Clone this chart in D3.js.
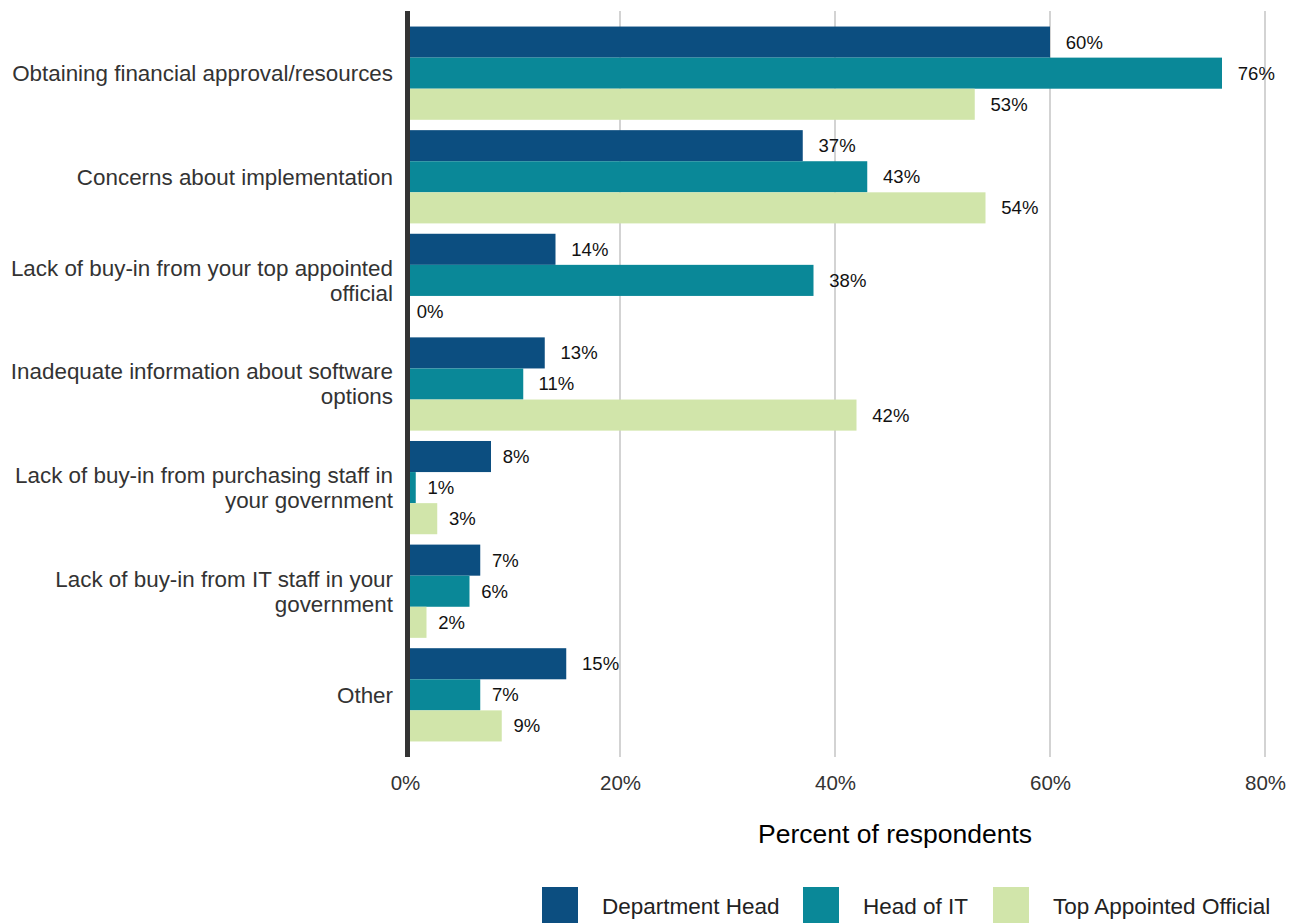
<!DOCTYPE html>
<html>
<head>
<meta charset="utf-8">
<script src="https://cdn.jsdelivr.net/npm/d3@7"></script>
<style>
  html, body { margin: 0; padding: 0; background: #fff; }
  svg { display: block; font-family: "Liberation Sans", Arial, sans-serif; }
</style>
</head>
<body>
<svg id="chart" width="1300" height="923"></svg>
<script>
// Barriers to adopting new software, by respondent role
const categories = [
  ["Obtaining financial approval/resources"],
  ["Concerns about implementation"],
  ["Lack of buy-in from your top appointed", "official"],
  ["Inadequate information about software", "options"],
  ["Lack of buy-in from purchasing staff in", "your government"],
  ["Lack of buy-in from IT staff in your", "government"],
  ["Other"]
];
const seriesNames = ["Department Head", "Head of IT", "Top Appointed Official"];
const seriesColors = ["#0c4e80", "#0a8898", "#d1e5aa"];
const departmentHead = [60, 37, 14, 13, 8, 7, 15];
const headOfIT = [76, 43, 38, 11, 1, 6, 7];
const topAppointed = [53, 54, 0, 42, 3, 2, 9];
const xTicks = [0, 20, 40, 60, 80];

const series = [departmentHead, headOfIT, topAppointed];

const svg = d3.select("#chart");
const plot = { left: 405, right: 1265, top: 11, bottom: 757 };

const x = d3.scaleLinear().domain([0, 80]).range([plot.left, plot.right]);
const catKeys = categories.map((c, i) => i);
const y = d3.scaleBand().domain(catKeys).range([plot.top, plot.bottom])
  .paddingInner(0.1).paddingOuter(0.15);
const ySub = d3.scaleBand().domain(d3.range(series.length)).range([0, y.bandwidth()]);

// vertical gridlines
svg.append("g")
  .selectAll("line")
  .data(xTicks.filter(t => t > 0))
  .join("line")
  .attr("x1", d => x(d)).attr("x2", d => x(d))
  .attr("y1", plot.top).attr("y2", plot.bottom)
  .attr("stroke", "#d3d3d3").attr("stroke-width", 2);

// bars
const groups = svg.append("g").selectAll("g")
  .data(catKeys)
  .join("g")
  .attr("transform", d => `translate(0,${y(d)})`);

groups.selectAll("rect")
  .data(ci => series.map((s, si) => ({ si, v: s[ci] })))
  .join("rect")
  .attr("x", x(0))
  .attr("y", d => ySub(d.si))
  .attr("width", d => x(d.v) - x(0))
  .attr("height", ySub.bandwidth())
  .attr("fill", d => seriesColors[d.si]);

// value labels
groups.selectAll("text")
  .data(ci => series.map((s, si) => ({ si, v: s[ci] })))
  .join("text")
  .attr("y", d => ySub(d.si) + ySub.bandwidth() / 2)
  .attr("dy", "0.35em")
  .attr("font-size", 18.5)
  .attr("fill", "#111")
  .text(d => d.v + "%")
  .attr("x", function(d) {
    const w = this.getComputedTextLength();
    return x(d.v) + 0.4 * w + 1;
  });

// zero baseline
svg.append("line")
  .attr("x1", x(0) + 2.5).attr("x2", x(0) + 2.5)
  .attr("y1", plot.top).attr("y2", plot.bottom)
  .attr("stroke", "#333").attr("stroke-width", 5);

// category labels
const catLabels = svg.append("g").selectAll("text")
  .data(catKeys)
  .join("text")
  .attr("text-anchor", "end")
  .attr("font-size", 22.4)
  .attr("fill", "#333");
catLabels.each(function(ci) {
  const lines = categories[ci];
  const cy = y(ci) + y.bandwidth() / 2;
  const lh = 25;
  d3.select(this).selectAll("tspan")
    .data(lines)
    .join("tspan")
    .attr("x", 393)
    .attr("y", (d, i) => cy + (i - (lines.length - 1) / 2) * lh)
    .attr("dy", "0.35em")
    .text(d => d);
});

// x axis tick labels
const xAxis = d3.axisBottom(x).tickValues(xTicks).tickFormat(d => d + "%").tickSize(0).tickPadding(0);
const ax = svg.append("g").attr("transform", `translate(0,${plot.bottom})`).call(xAxis);
ax.select(".domain").remove();
ax.selectAll("text")
  .attr("font-family", "Liberation Sans, Arial, sans-serif")
  .attr("font-size", 20.5)
  .attr("fill", "#333")
  .attr("y", 26)
  .attr("dy", "0.35em");

// axis title
svg.append("text")
  .attr("x", 895).attr("y", 834)
  .attr("dy", "0.35em")
  .attr("text-anchor", "middle")
  .attr("font-size", 26.5)
  .attr("fill", "#000")
  .text("Percent of respondents");

// legend
const legendX = [542, 803, 993];
const legend = svg.append("g").selectAll("g")
  .data(seriesNames)
  .join("g")
  .attr("transform", (d, i) => `translate(${legendX[i]},887)`);
legend.append("rect")
  .attr("width", 36).attr("height", 36)
  .attr("fill", (d, i) => seriesColors[i]);
legend.append("text")
  .attr("x", 60).attr("y", 19)
  .attr("dy", "0.35em")
  .attr("font-size", 22.5)
  .attr("fill", "#222")
  .text(d => d);
</script>
</body>
</html>
